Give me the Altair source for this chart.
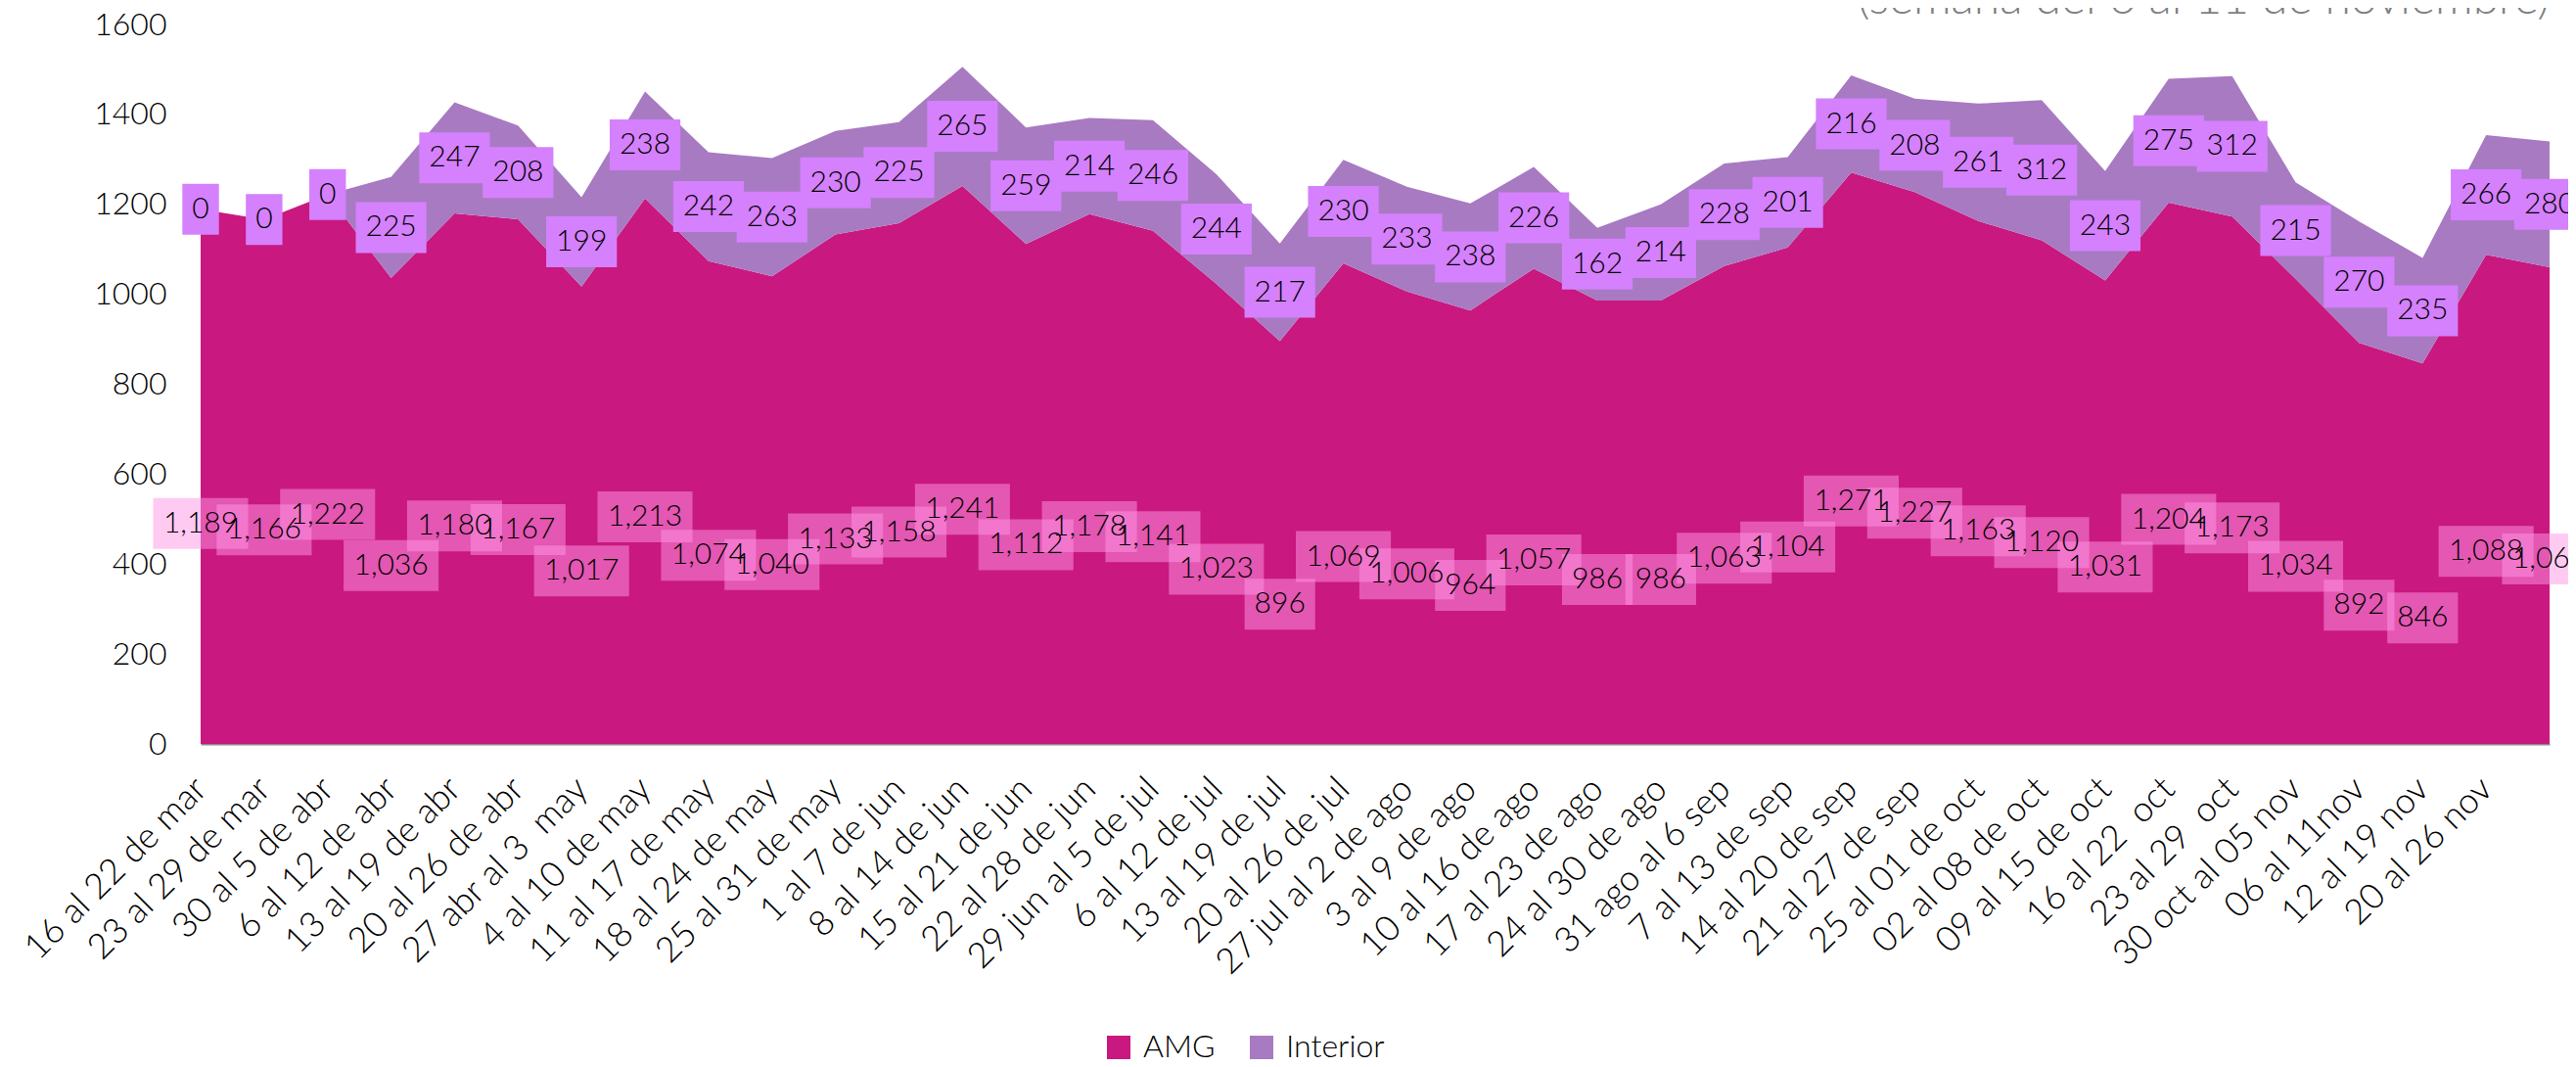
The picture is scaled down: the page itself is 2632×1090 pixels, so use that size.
import json
import altair as alt
import pandas as pd

weeks = ["16 al 22 de mar", "23 al 29 de mar", "30 al 5 de abr", "6 al 12 de abr",
         "13 al 19 de abr", "20 al 26 de abr", "27 abr al 3 \u00a0may", "4 al 10 de may",
         "11 al 17 de may", "18 al 24 de may", "25 al 31 de may", "1 al 7 de jun",
         "8 al 14 de jun", "15 al 21 de jun", "22 al 28 de jun", "29 jun al 5 de jul",
         "6 al 12 de jul", "13 al 19 de jul", "20 al 26 de jul", "27 jul al 2 de ago",
         "3 al 9 de ago", "10 al 16 de ago", "17 al 23 de ago", "24 al 30 de ago",
         "31 ago al 6 sep", "7 al 13 de sep", "14 al 20 de sep", "21 al 27 de sep",
         "25 al 01 de oct", "02 al 08 de oct", "09 al 15 de oct", "16 al 22 \u00a0oct",
         "23 al 29 \u00a0oct", "30 oct al 05 nov", "06 al 11nov", "12 al 19 nov",
         "20 al 26 nov", ""]

amg = [1189, 1166, 1222, 1036, 1180, 1167, 1017, 1213, 1074, 1040, 1133, 1158, 1241,
       1112, 1178, 1141, 1023, 896, 1069, 1006, 964, 1057, 986, 986, 1063, 1104, 1271,
       1227, 1163, 1120, 1031, 1204, 1173, 1034, 892, 846, 1088, 1060]

interior = [0, 0, 0, 225, 247, 208, 199, 238, 242, 263, 230, 225, 265, 259, 214, 246,
            244, 217, 230, 233, 238, 226, 162, 214, 228, 201, 216, 208, 261, 312, 243,
            275, 312, 215, 270, 235, 266, 280]

series = ["AMG", "Interior"]
y_ticks = [0, 200, 400, 600, 800, 1000, 1200, 1400, 1600]
subtitle = "(semana del 6 al 11 de noviembre)"

MAG = "#C9187F"
PUR = "#A87AC2"
FONT = "Lato"
LIGHT = 300

W, H = 2400, 735
N = len(amg) - 1
PX_X = W / N
PX_Y = H / 1600.0
DIG, COM, PADX, BOXH = 17.4, 7.5, 20, 52

df = pd.DataFrame({"idx": list(range(len(amg))), "AMG": amg, "Interior": interior})

label_expr = json.dumps(weeks, ensure_ascii=False) + "[datum.value]"

x_enc = alt.X(
    "idx:Q",
    scale=alt.Scale(domain=[0, N], nice=False, zero=False),
    axis=alt.Axis(
        values=list(range(len(weeks) - 1)), labelExpr=label_expr, labelAngle=315,
        labelAlign="right", labelBaseline="middle", labelFontSize=36, labelFont=FONT,
        labelFontWeight=LIGHT, labelColor="black", labelPadding=40, labelLimit=0,
        ticks=False, grid=False, domainColor="#8c8c8c", domainWidth=2,
        labelOverlap=False, labelFlush=False, title=None,
    ),
)
y_scale = alt.Scale(domain=[0, 1600], nice=False)

base = alt.Chart(df)

areas = base.transform_fold(series, as_=["serie", "valor"]).mark_area(opacity=1).encode(
    x=x_enc,
    y=alt.Y(
        "valor:Q", stack="zero", scale=y_scale,
        axis=alt.Axis(values=y_ticks, format="d", grid=False, ticks=False, domain=False,
                      labelFontSize=32, labelFont=FONT, labelFontWeight=LIGHT,
                      labelColor="black", labelPadding=35, title=None),
    ),
    color=alt.Color(
        "serie:N",
        scale=alt.Scale(domain=series, range=[MAG, PUR]),
        legend=alt.Legend(
            title=None, orient="none", legendX=922, legendY=1029,
            direction="horizontal", symbolType="square", symbolSize=576,
            symbolStrokeWidth=0, labelFontSize=32, labelFont=FONT,
            labelFontWeight=LIGHT, labelColor="black", columnPadding=31,
            labelOffset=9, padding=0,
        ),
    ),
    order=alt.Order("serie:N", sort="ascending"),
)

xq = alt.X("idx:Q", scale=alt.Scale(domain=[0, N], nice=False, zero=False))

amg_calc = base.transform_calculate(
    t="format(datum.AMG, ',')",
    cy="0.612 * datum.AMG - 237.5",
    wpx=f"length(toString(datum.AMG)) * {DIG} + (datum.AMG >= 1000 ? {COM} : 0) + {PADX}",
    bx1=f"datum.idx - datum.wpx / 2 / {PX_X}",
    bx2=f"datum.idx + datum.wpx / 2 / {PX_X}",
    by1=f"datum.cy - {BOXH} / 2 / {PX_Y}",
    by2=f"datum.cy + {BOXH} / 2 / {PX_Y}",
)

amg_box = amg_calc.mark_rect(color="#FF96E6", opacity=0.5).encode(
    x=alt.X("bx1:Q", scale=alt.Scale(domain=[0, N], nice=False, zero=False)),
    x2="bx2:Q",
    y=alt.Y("by1:Q", scale=y_scale),
    y2="by2:Q",
)
amg_txt = amg_calc.mark_text(font=FONT, fontSize=30, fontWeight=LIGHT, color="black",
                             baseline="middle").encode(
    x=xq, y=alt.Y("cy:Q", scale=y_scale), text="t:N"
)

int_calc = base.transform_calculate(
    t="format(datum.Interior, ',')",
    cy="datum.AMG + datum.Interior / 2",
    wpx=f"length(toString(datum.Interior)) * {DIG} + {PADX}",
    bx1=f"datum.idx - datum.wpx / 2 / {PX_X}",
    bx2=f"datum.idx + datum.wpx / 2 / {PX_X}",
    by1=f"datum.cy - {BOXH} / 2 / {PX_Y}",
    by2=f"datum.cy + {BOXH} / 2 / {PX_Y}",
)

int_box = int_calc.mark_rect(color="#D580FD", opacity=1).encode(
    x=alt.X("bx1:Q", scale=alt.Scale(domain=[0, N], nice=False, zero=False)),
    x2="bx2:Q",
    y=alt.Y("by1:Q", scale=y_scale),
    y2="by2:Q",
)
int_txt = int_calc.mark_text(font=FONT, fontSize=30, fontWeight=LIGHT, color="black",
                             baseline="middle").encode(
    x=xq, y=alt.Y("cy:Q", scale=y_scale), text="t:N"
)

title_txt = alt.Chart(pd.DataFrame({"t": [subtitle]})).mark_text(
    font=FONT, fontSize=48, fontWeight=LIGHT, color="#7f7f7f", align="right",
    baseline="alphabetic",
).encode(x=alt.value(W), y=alt.value(-11), text="t:N")

chart = alt.layer(areas, amg_box, amg_txt, int_box, int_txt, title_txt).properties(
    width=W, height=H,
    autosize=alt.AutoSizeParams(type="none"),
    padding={"left": 197, "top": 17, "right": 19, "bottom": 330},
    background="white",
).configure_view(strokeWidth=0, stroke="transparent")

chart.save("out.html", embed_options={"renderer": "svg", "actions": False})
